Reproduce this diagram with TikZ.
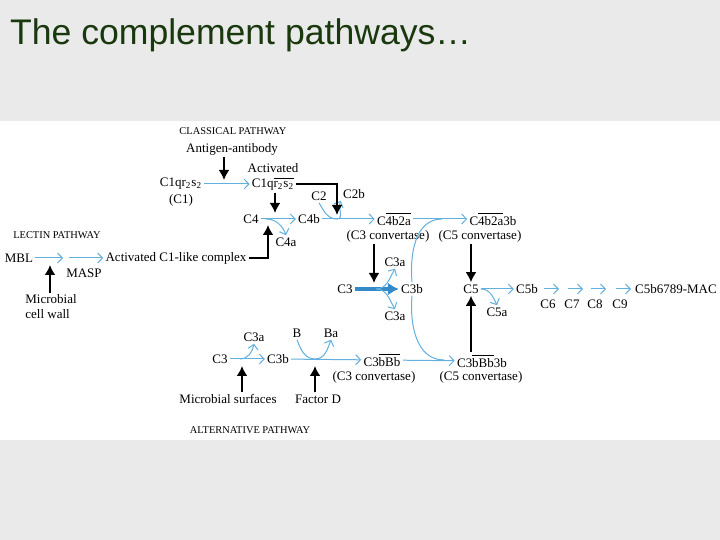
\documentclass[tikz,border=0pt]{standalone}
\usepackage{fontspec}
\setmainfont{Liberation Serif}
\newfontfamily\titlefont{Liberation Sans}
\usetikzlibrary{arrows.meta, positioning}
\definecolor{cbg}{HTML}{EAEAEA}
\definecolor{ctitle}{HTML}{1A380E}
\definecolor{cblue}{HTML}{62B0DD}
\definecolor{cbluedark}{HTML}{3489C9}
\newcommand{\ovl}[1]{$\overline{\hbox{#1}}$}
\tikzset{
  clbl/.style={font=\fontsize{6.5}{7.5}\selectfont, inner sep=1pt},
  chead/.style={font=\fontsize{5.2}{6}\selectfont, inner sep=1pt},
  cflow/.style={-{Straight Barb[length=2.4pt, width=5pt]}, cblue, line width=0.5pt},
  cjoin/.style={cblue, line width=0.5pt},
  cpush/.style={-{Latex[length=5pt, width=5.5pt]}, line width=1.45pt, black},
  cbig/.style={-{Latex[length=5.5pt, width=6.5pt]}, cbluedark, line width=2.3pt},
}

\begin{document}
\begin{tikzpicture}[x=0.5pt, y=-0.5pt]
    \useasboundingbox (0,0) rectangle (720,540);
    \fill[cbg] (0,0) rectangle (720,540);
    \fill[white] (0,121) rectangle (720,440);
    \node[anchor=west, text=ctitle, font=\titlefont\fontsize{17.8}{19}\selectfont] (title) at (3,35) {The complement pathways…};

    % classical pathway
    \node[chead] (clas) at (233,131) {CLASSICAL PATHWAY};
    \node[clbl] (agab) at (232,149) {Antigen-antibody};
    \node[clbl] (c1) at (181,184) {C1qr\textsubscript{2}s\textsubscript{2}};
    \node[clbl, below=0pt of c1] (c1lbl) {(C1)};
    \node[clbl] (c1act) at (273,184) {C1q\ovl{r\textsubscript{2}s\textsubscript{2}}};
    \node[clbl, above=0pt of c1act] (actv) {Activated};
    \draw[cflow] (c1) -- (c1act);
    \coordinate (k1) at (224,184);
    \draw[cpush] (agab.south -| k1) -- ([yshift=2pt]k1);

    \node[clbl] (c4) at (251,219) {C4};
    \node[clbl] (c4b) at (309,219) {C4b};
    \node[clbl] (c4a) at (286,242) {C4a};
    \draw[cflow] (c4) -- (c4b);
    \coordinate (k4) at (275,219);
    \coordinate (k4l) at (268,219);
    \draw[cflow] ([xshift=-1pt]k4l) to[out=0, in=110] (c4a.north);
    \draw[cpush] (c1act.south -| k4) -- ([yshift=3pt]k4);

    \node[clbl] (c2) at (319,196) {C2};
    \node[clbl] (c2b) at (354,194) {C2b};
    \node[clbl] (c42) at (394,219) {C\ovl{4b2a}};
    \node[clbl] (c3conv1) at (388,236) {(C3 convertase)};
    \draw[cflow] (c4b) -- (c42);
    \coordinate (k2) at (337,219);
    \draw[cflow] (c2.south) to[out=-60, in=180] (k2) to[out=0, in=-115] (c2b.south west);
    \draw[cpush] (c1act.east) -| ([yshift=2pt]k2);

    \node[clbl] (c423) at (493,219) {C\ovl{4b2a}3b};
    \node[clbl] (c5conv1) at (480,236) {(C5 convertase)};
    \draw[cflow] (c42) -- (c423);

    % lectin pathway
    \node[chead] (lect) at (57,235) {LECTIN PATHWAY};
    \node[clbl] (mbl) at (19,258) {MBL};
    \node[clbl] (c1like) at (176,258) {Activated C1-like complex};
    \node[clbl] (masp) at (84,273) {MASP};
    \coordinate (km) at (66,258);
    \draw[cflow] (mbl) -- ([xshift=-1.5pt]km);
    \draw[cflow] ([xshift=1.5pt]km) -- (c1like);
    \node[clbl, align=left] (mcw) at (51,307) {Microbial\\cell wall};
    \coordinate (kw) at (50,258);
    \draw[cpush] (mcw.north -| kw) -- ([yshift=-3.5pt]kw);
    \draw[cpush] (c1like.east) -| ([yshift=-3pt]k4l);

    % C3 cleavage
    \node[clbl] (c3) at (345,289) {C3};
    \node[clbl] (c3b) at (412,289) {C3b};
    \node[clbl] (c3au) at (395,262) {C3a};
    \node[clbl] (c3ad) at (395,316) {C3a};
    \draw[cbig] (c3) -- (c3b);
    \coordinate (k3) at (374,289);
    \draw[cflow] ([xshift=1pt]k3) to[out=0, in=-120] (c3au.south);
    \draw[cflow] ([xshift=1pt]k3) to[out=0, in=120] (c3ad.north);
    \draw[cpush] (c3conv1.south -| k3) -- ([yshift=3pt]k3);

    \coordinate (kt) at (442,219);
    \coordinate (kb) at (444,360);
    \draw[cjoin] (c3b.north) to[out=95, in=180] (kt);
    \draw[cjoin] (c3b.south) to[out=-95, in=180] (kb);

    % C5 and MAC
    \node[clbl] (c5) at (471,289) {C5};
    \node[clbl] (c5b) at (527,289) {C5b};
    \node[clbl] (c5a) at (497,312) {C5a};
    \draw[cflow] (c5) -- (c5b);
    \draw[cflow] (c5.east) to[out=0, in=115] (c5a.north);
    \draw[cpush] (c5conv1.south -| c5) -- (c5.north);
    \foreach \n/\x in {6/548, 7/572, 8/595, 9/620} {
      \node[clbl] (c\n) at (\x,304) {C\n};
      \draw[cflow] ([shift={(-2pt,7.5pt)}]c\n.center) -- ([shift={(5.5pt,7.5pt)}]c\n.center);
    }
    \node[clbl] (mac) at (676,289) {C5b6789-MAC};

    % alternative pathway
    \node[clbl] (ac3) at (220,359) {C3};
    \node[clbl] (ac3b) at (278,359) {C3b};
    \node[clbl] (ac3a) at (254,337) {C3a};
    \draw[cflow] (ac3) -- (ac3b);
    \coordinate (ka) at (242,359);
    \draw[cflow] ([xshift=-1pt]ka) to[out=0, in=-100] (ac3a.south);
    \node[clbl] (msurf) at (228,399) {Microbial surfaces};
    \draw[cpush] (msurf.north -| ka) -- ([yshift=-3.5pt]ka);

    \node[clbl] (bb) at (297,333) {B};
    \node[clbl] (ba) at (331,333) {Ba};
    \node[clbl] (c3bbb) at (382,360) {C3\ovl{bBb}};
    \node[clbl] (c3conv2) at (374,377) {(C3 convertase)};
    \draw[cflow] (ac3b) -- (c3bbb);
    \coordinate (kd) at (315,359);
    \draw[cflow] (bb.south) to[out=-70, in=180] (kd) to[out=0, in=-110] (ba.south);
    \node[clbl] (fd) at (318,399) {Factor D};
    \draw[cpush] (fd.north -| kd) -- ([yshift=-3.5pt]kd);

    \node[clbl] (c3bbb3b) at (482,361) {C3\ovl{bBb}3b};
    \node[clbl] (c5conv2) at (481,377) {(C5 convertase)};
    \draw[cflow] (c3bbb) -- (c3bbb3b);
    \draw[cpush] (c3bbb3b.north -| c5) -- (c5.south);
    \node[chead] (alt) at (250,430) {ALTERNATIVE PATHWAY};
\end{tikzpicture}
\end{document}
